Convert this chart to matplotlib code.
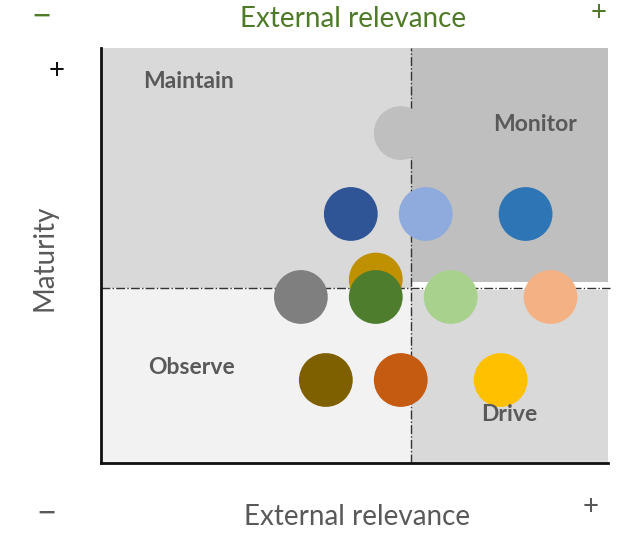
"""Maturity vs external relevance quadrant chart."""

import matplotlib

matplotlib.use("Agg")
import matplotlib.pyplot as plt
from matplotlib import patches

plt.rcParams["font.family"] = ["Lato", "DejaVu Sans"]

# bubble positions (x in steps of relevance, y in steps of maturity)
bubble_x = [12, 10, 13, 17, 11, 8, 11, 14, 18, 9, 12, 16]
bubble_y = [7.95, 6.0, 6.0, 6.0, 4.42, 4.0, 4.0, 4.0, 4.0, 2.0, 2.0, 2.0]
bubble_colors = [
	"#bfbfbf", "#2f5597", "#8faadc", "#2e75b6", "#bf9000", "#7f7f7f",
	"#4e7d2d", "#a9d18e", "#f4b183", "#7f6000", "#c55a11", "#ffc000",
]

quadrant_labels = ["Maintain", "Monitor", "Observe", "Drive"]
label_x = [1.7, 15.7, 1.9, 15.2]
label_y = [9.2, 8.15, 2.29, 1.16]

split_x = 12.4
split_y = 4.22
x_max = 20.3
y_max = 10.0

fig = plt.figure(figsize=(6.32, 5.33), dpi=100)
ax = fig.add_axes([0.160, 0.1313, 0.802, 0.7787])
ax.set_xlim(0, x_max)
ax.set_ylim(0, y_max)

# quadrant backgrounds
ax.add_patch(patches.Rectangle((0, split_y), split_x, y_max - split_y,
	facecolor="#d9d9d9", edgecolor="none", zorder=0))
ax.add_patch(patches.Rectangle((split_x, 4.37), x_max - split_x, y_max - 4.37,
	facecolor="#bfbfbf", edgecolor="none", zorder=0))
ax.add_patch(patches.Rectangle((0, 0), split_x, split_y,
	facecolor="#f2f2f2", edgecolor="none", zorder=0))
ax.add_patch(patches.Rectangle((split_x, 0), x_max - split_x, split_y - 0.05,
	facecolor="#d9d9d9", edgecolor="none", zorder=0))

ax.axvline(split_x, color="#333333", linestyle="-.", linewidth=1.0, zorder=1)
ax.plot([0, x_max + 0.1], [split_y, split_y], color="#333333",
	linestyle="-.", linewidth=1.0, zorder=1, clip_on=False)

ax.scatter(bubble_x, bubble_y, s=1500, c=bubble_colors, edgecolors="none",
	zorder=3)

for text, tx, ty in zip(quadrant_labels, label_x, label_y):
	ax.text(tx, ty, text, fontsize=16.5, fontweight="bold", color="#595959",
		ha="left", va="center", zorder=4)

for side in ["top", "right"]:
	ax.spines[side].set_visible(False)
for side in ["left", "bottom"]:
	ax.spines[side].set_linewidth(2)
	ax.spines[side].set_color("#111111")
ax.set_xticks([])
ax.set_yticks([])

green = "#4f7a28"
grey = "#595959"
fig.text(353 / 632, 1 - 19 / 533, "External relevance", fontsize=20,
	color=green, ha="center", va="center")
fig.text(41 / 632, 1 - 17 / 533, "\u2212", fontsize=25, color=green,
	ha="center", va="center")
fig.text(599 / 632, 1 - 13 / 533, "+", fontsize=20, color=green,
	ha="center", va="center")

fig.text(357 / 632, 1 - 517 / 533, "External relevance", fontsize=20,
	color=grey, ha="center", va="center")
fig.text(46 / 632, 1 - 514 / 533, "\u2212", fontsize=25, color=grey,
	ha="center", va="center")
fig.text(591 / 632, 1 - 507 / 533, "+", fontsize=20, color=grey,
	ha="center", va="center")

fig.text(45 / 632, 1 - 258 / 533, "Maturity", fontsize=20, color=grey,
	rotation=90, ha="center", va="center")
fig.text(57 / 632, 1 - 71 / 533, "+", fontsize=20, color="#111111",
	ha="center", va="center")

fig.savefig("out.png", dpi=100, facecolor="white")
